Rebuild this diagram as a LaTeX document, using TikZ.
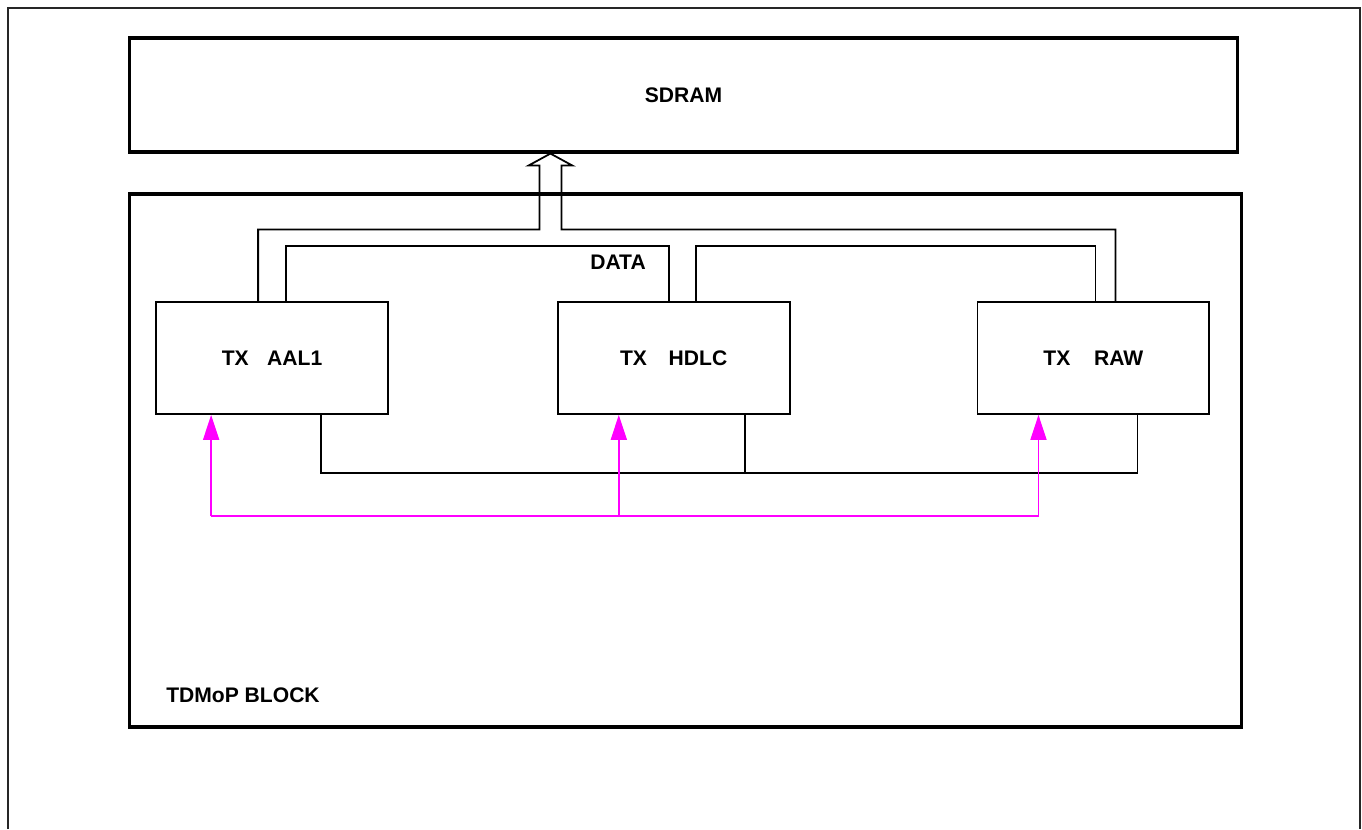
\documentclass[tikz,border=0pt]{standalone}
\usepackage{fontspec}
\setmainfont{Liberation Sans}
\usetikzlibrary{positioning}
\usetikzlibrary{arrows.meta}
\definecolor{ctrlpink}{RGB}{255,0,255}
\tikzset{
big_box/.style={rectangle, draw, line width=1.8pt, anchor=center, font=\bfseries\fontsize{12}{14}\selectfont},
tx_box/.style={rectangle, draw, line width=1pt, minimum width=4.64cm, minimum height=2.24cm, font=\bfseries\fontsize{12}{14}\selectfont},
label_text/.style={font=\bfseries\fontsize{12}{14}\selectfont, inner sep=0pt},
bus_line/.style={line width=1pt, line join=miter},
ctrl_line/.style={line width=1pt, color=ctrlpink},
ctrl_tip/.style={-{Triangle[length=5mm,width=3.2mm]}}
}

\begin{document}
\begin{tikzpicture}[x=0.02cm, y=-0.02cm]
    \useasboundingbox (0,0) rectangle (1362,829);
    \draw[line width=1pt, color=black!85] (8,829) -- (8,8) -- (1360,8) -- (1360,829);
    % memory and block frames
    \node[big_box, minimum width=22.18cm, minimum height=2.28cm] (sdram) at (683.5,95) {SDRAM};
    \node[big_box, minimum width=22.26cm, minimum height=10.66cm] (tdmop) at (685.5,460.5) {};
    % transmit units
    \node[tx_box] (aal1) at (272,358) {TX\hspace{0.6em} AAL1};
    \node[tx_box] (hdlc) [right=3.36cm of aal1] {TX\hspace{0.75em} HDLC};
    \node[tx_box] (raw) [right=3.72cm of hdlc] {TX\hspace{0.85em} RAW};
    \node[label_text] (data) at (618,262) {DATA};
    \node[label_text] (block_name) at (243,695) {TDMoP BLOCK};
    % data bus with hollow arrow
    \coordinate (tip) at ([xshift=8.46cm]sdram.south west);
    \draw[bus_line] (tip) -- ++(-22,12) -- ++(11,0) -- ++(0,64) -| ([xshift=2.06cm]aal1.north west);
    \draw[bus_line] (tip) -- ++(22,12) -- ++(-11,0) -- ++(0,64) -| ([xshift=2.78cm]raw.north west);
    \draw[bus_line] ([xshift=2.62cm]aal1.north west) -- ++(0,-55) -| ([xshift=2.24cm]hdlc.north west);
    \draw[bus_line] ([xshift=2.78cm]hdlc.north west) -- ++(0,-55) -| ([xshift=2.38cm]raw.north west);
    % bottom link
    \draw[bus_line] ([xshift=3.32cm]aal1.south west) -- ++(0,58) -| ([xshift=3.22cm]raw.south west);
    \draw[bus_line] ([xshift=3.76cm]hdlc.south west) -- ++(0,58);
    % control
    \draw[ctrl_line, ctrl_tip] ([xshift=1.12cm]aal1.south west) ++(0,101) coordinate (c_left) -- ([xshift=1.12cm]aal1.south west);
    \draw[ctrl_line, ctrl_tip] (c_left) -| ([xshift=1.24cm]raw.south west);
    \draw[ctrl_line, ctrl_tip] ([xshift=1.24cm]hdlc.south west) ++(0,101) coordinate (c_mid) -- ([xshift=1.24cm]hdlc.south west);
\end{tikzpicture}
\end{document}
